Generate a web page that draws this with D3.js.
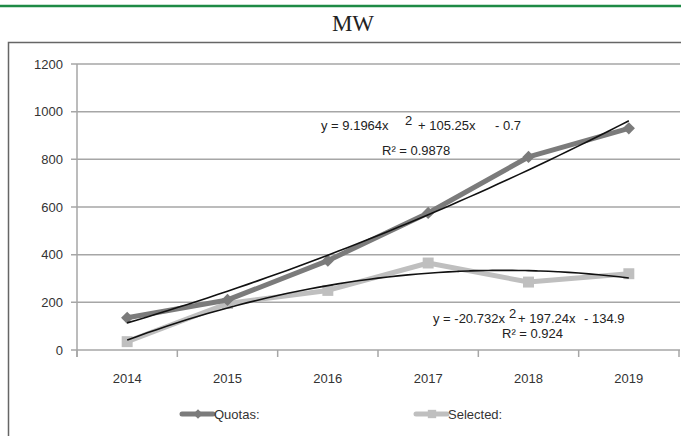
<!DOCTYPE html>
<html>
<head>
<meta charset="utf-8">
<script src="https://cdn.jsdelivr.net/npm/d3@7"></script>
<style>
  body { margin: 0; background: #fff; }
  svg { display: block; }
</style>
</head>
<body>
<div id="chart"></div>
<script>
var years = ["2014", "2015", "2016", "2017", "2018", "2019"];
var quotas = [135, 210, 375, 575, 810, 930];
var selected = [35, 195, 250, 365, 285, 320];
var yTicks = [0, 200, 400, 600, 800, 1000, 1200];
// trendline coefficients (a, b, c) for y = a*x^2 + b*x + c
var quotasFit = [9.1964, 105.25, -0.7];
var selectedFit = [-20.732, 197.24, -134.9];

var width = 681, height = 436;
var svg = d3.select("#chart").append("svg")
    .attr("width", width)
    .attr("height", height);

// top green rule
svg.append("line")
    .attr("x1", 0).attr("x2", width)
    .attr("y1", 6).attr("y2", 6)
    .attr("stroke", "#1e8a45")
    .attr("stroke-width", 2.5);

svg.append("text")
    .attr("x", 353).attr("y", 31)
    .attr("text-anchor", "middle")
    .attr("font-family", "Liberation Serif, Times New Roman, serif")
    .attr("font-size", 23)
    .attr("fill", "#222")
    .text("MW");

// chart frame
svg.append("rect")
    .attr("x", 8.5).attr("y", 42.5)
    .attr("width", 700).attr("height", 420)
    .attr("fill", "none")
    .attr("stroke", "#666")
    .attr("stroke-width", 1.5);

var x = d3.scaleBand().domain(years).range([77, 679]);
var y = d3.scaleLinear().domain([0, 1200]).range([350, 64]);
var xi = d3.scaleLinear().domain([1, 6])
    .range([x(years[0]) + x.bandwidth() / 2, x(years[5]) + x.bandwidth() / 2]);

var font = "Liberation Sans, Arial, sans-serif";

// gridlines
svg.selectAll("line.grid").data(yTicks).enter()
  .append("line")
    .attr("class", "grid")
    .attr("x1", 71).attr("x2", 680)
    .attr("y1", function(d) { return y(d); })
    .attr("y2", function(d) { return y(d); })
    .attr("stroke", "#a6a6a6")
    .attr("stroke-width", 1.5);

// y axis line
svg.append("line")
    .attr("x1", 77).attr("x2", 77)
    .attr("y1", y(1200)).attr("y2", y(0) + 7)
    .attr("stroke", "#a6a6a6").attr("stroke-width", 1.5);

// x tick marks at band edges
var edges = years.map(function(d) { return x(d); }).concat([x.range()[1]]);
svg.selectAll("line.xtick").data(edges).enter()
  .append("line")
    .attr("class", "xtick")
    .attr("x1", function(d) { return d; }).attr("x2", function(d) { return d; })
    .attr("y1", y(0)).attr("y2", y(0) + 7)
    .attr("stroke", "#a6a6a6").attr("stroke-width", 1.5);

svg.selectAll("text.ylab").data(yTicks).enter()
  .append("text")
    .attr("class", "ylab")
    .attr("x", 63)
    .attr("y", function(d) { return y(d) + 4.5; })
    .attr("text-anchor", "end")
    .attr("font-family", font).attr("font-size", 13)
    .attr("fill", "#333")
    .text(function(d) { return d; });

svg.selectAll("text.xlab").data(years).enter()
  .append("text")
    .attr("class", "xlab")
    .attr("x", function(d) { return x(d) + x.bandwidth() / 2; })
    .attr("y", 383)
    .attr("text-anchor", "middle")
    .attr("font-family", font).attr("font-size", 13)
    .attr("fill", "#333")
    .text(function(d) { return d; });

var diamond = d3.symbol().type(d3.symbolSquare);

function drawSeries(vals, color, isDiamond, size) {
  var pts = vals.map(function(v, i) { return [x(years[i]) + x.bandwidth() / 2, y(v)]; });
  svg.append("path")
      .datum(pts)
      .attr("fill", "none")
      .attr("stroke", color)
      .attr("stroke-width", 5)
      .attr("stroke-linejoin", "round")
      .attr("d", d3.line());
  svg.selectAll(null).data(pts).enter()
    .append("path")
      .attr("transform", function(d) {
        return "translate(" + d[0] + "," + d[1] + ")" + (isDiamond ? " rotate(45)" : "");
      })
      .attr("d", diamond.size(size)())
      .attr("fill", color);
}

drawSeries(selected, "#bfbfbf", false, 120);
drawSeries(quotas, "#7b7b7b", true, 75);

function drawTrend(coef) {
  var pts = d3.range(1, 6.01, 0.1).map(function(t) {
    return [xi(t), y(coef[0] * t * t + coef[1] * t + coef[2])];
  });
  svg.append("path")
      .datum(pts)
      .attr("fill", "none")
      .attr("stroke", "#111")
      .attr("stroke-width", 1.6)
      .attr("d", d3.line().curve(d3.curveMonotoneX));
}
drawTrend(quotasFit);
drawTrend(selectedFit);

function label(parts, yy) {
  parts.forEach(function(p) {
    svg.append("text")
        .attr("x", p[0]).attr("y", yy + (p[2] || 0))
        .attr("font-family", font).attr("font-size", 13)
        .attr("fill", "#222")
        .text(p[1]);
  });
}
label([[321, "y = 9.1964x"], [405, "2", -5], [418, "+ 105.25x"], [495, "- 0.7"]], 130);
label([[382, "R\u00b2 = 0.9878"]], 155);
label([[433, "y = -20.732x"], [509, "2", -5], [518, "+ 197.24x"], [584, "- 134.9"]], 323);
label([[502, "R\u00b2 = 0.924"]], 338);

// legend
function legendItem(x0, color, isDiamond, size, name) {
  svg.append("line")
      .attr("x1", x0).attr("x2", x0 + 31)
      .attr("y1", 414).attr("y2", 414)
      .attr("stroke", color).attr("stroke-width", 5)
      .attr("stroke-linecap", "round");
  svg.append("path")
      .attr("transform", "translate(" + (x0 + 16) + ",414)" + (isDiamond ? " rotate(45)" : ""))
      .attr("d", diamond.size(size)())
      .attr("fill", color);
  svg.append("text")
      .attr("x", x0 + 32).attr("y", 418.5)
      .attr("font-family", font).attr("font-size", 13)
      .attr("fill", "#333")
      .text(name);
}
legendItem(182, "#7b7b7b", true, 45, "Quotas:");
legendItem(416, "#bfbfbf", false, 70, "Selected:");
</script>
</body>
</html>
